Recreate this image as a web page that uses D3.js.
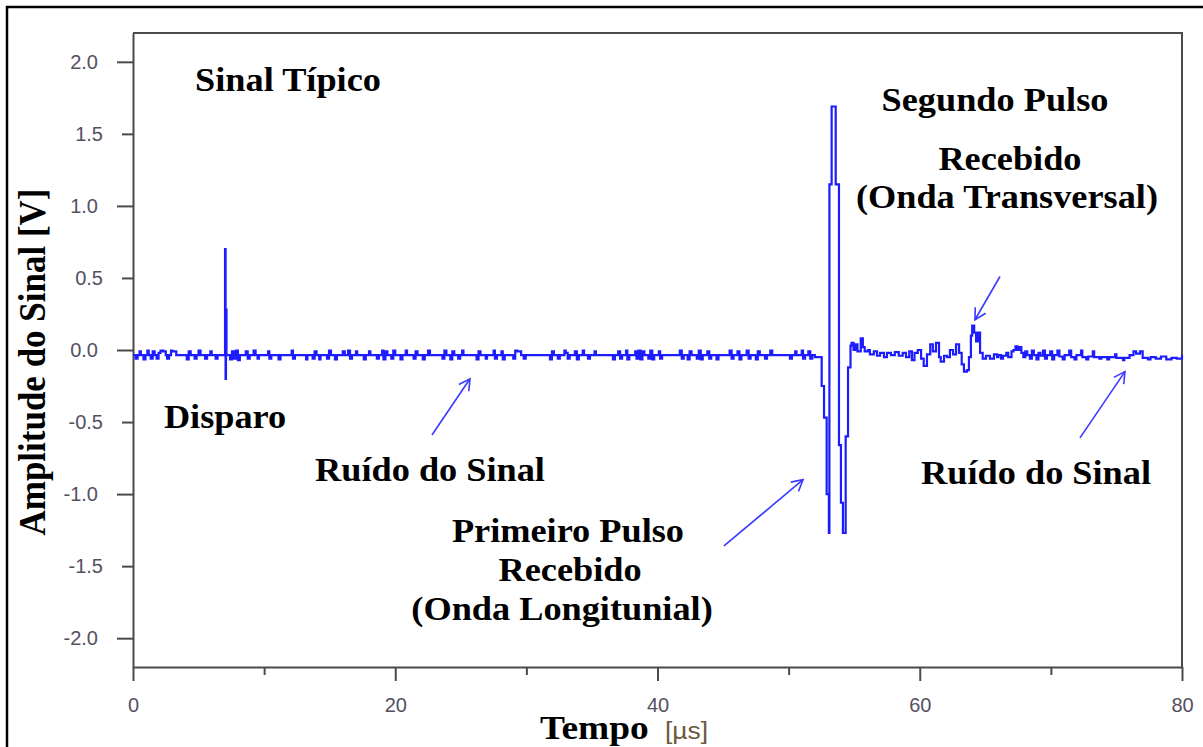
<!DOCTYPE html>
<html>
<head>
<meta charset="utf-8">
<script src="https://cdn.jsdelivr.net/npm/d3@7"></script>
<style>
  html, body { margin: 0; padding: 0; background: #fff; }
  svg { display: block; }
</style>
</head>
<body>
<svg id="chart" width="1203" height="747"></svg>
<script>
// Ultrasonic pulse-transit trace: amplitude [V] against time [µs].
// Each pair is [time µs, amplitude V]; the value holds until the next sample.

// Noise ahead of the trigger
const noiseLead = [
  [0.0,-0.035],[0.2,-0.06],[0.35,-0.035],[0.5,-0.01],[0.6,-0.035],[0.8,-0.065],[0.95,-0.035],
  [1.1,-0.005],[1.2,-0.035],[1.35,-0.06],[1.5,-0.01],[1.65,-0.035],[1.8,-0.06],[1.95,-0.02],
  [2.1,-0.005],[2.3,-0.01],[2.5,-0.035],[2.6,-0.06],[2.75,-0.035],[2.9,-0.005],[3.0,-0.01],
  [3.3,-0.035],[4.1,-0.065],[4.25,-0.01],[4.4,-0.035],[4.7,-0.06],[4.85,-0.035],[5.0,-0.005],
  [5.15,-0.035],[5.5,-0.06],[5.65,-0.035],[5.9,-0.01],[6.0,-0.035],[6.3,-0.06],[6.45,-0.035]
];

// Trigger spike ("Disparo")
const trigger = [
  [7.0,-0.035],[7.02,0.70],[7.06,-0.20],[7.09,0.28],[7.13,-0.035]
];

// Background noise between trigger and first arrival
const noiseMid = [
  [7.4,-0.065],[7.55,-0.01],[7.7,-0.06],[7.85,-0.005],[8.0,-0.07],[8.15,-0.035],
  [8.6,-0.01],[8.75,-0.06],[8.9,-0.035],[9.2,-0.005],[9.35,-0.035],[9.5,-0.06],[9.6,-0.035],
  [10.3,-0.01],[10.4,-0.06],[10.55,-0.035],[11.1,-0.065],[11.25,-0.035],
  [12.1,-0.005],[12.2,-0.06],[12.35,-0.035],[13.2,-0.065],[13.3,-0.035],
  [13.7,-0.06],[13.85,-0.01],[14.0,-0.035],[14.2,-0.065],[14.3,-0.035],
  [14.8,-0.06],[14.95,-0.005],[15.1,-0.035],[15.4,-0.065],[15.55,-0.035],
  [16.0,-0.01],[16.15,-0.035],[16.4,-0.005],[16.55,-0.06],[16.7,-0.035],[17.0,-0.01],[17.1,-0.035],
  [17.6,-0.065],[17.75,-0.035],[18.0,-0.01],[18.1,-0.035],
  [18.6,-0.06],[18.75,-0.035],[19.0,-0.005],[19.1,-0.065],[19.25,-0.01],[19.4,-0.035],
  [19.7,-0.06],[19.85,-0.005],[20.0,-0.035],
  [20.4,-0.065],[20.55,-0.035],[20.8,-0.005],[20.9,-0.035],
  [21.4,-0.06],[21.55,-0.01],[21.7,-0.035],[22.1,-0.065],[22.25,-0.035],[22.5,-0.005],[22.65,-0.035],
  [23.6,-0.06],[23.75,-0.005],[23.9,-0.035],[24.2,-0.065],[24.35,-0.01],[24.5,-0.035],
  [24.8,-0.06],[24.95,-0.035],[25.1,-0.005],[25.2,-0.035],
  [26.2,-0.065],[26.35,-0.01],[26.5,-0.035],[26.9,-0.06],[27.0,-0.035],
  [27.5,-0.005],[27.6,-0.06],[27.75,-0.035],[28.1,-0.01],[28.2,-0.065],[28.35,-0.035],
  [29.0,-0.06],[29.15,-0.005],[29.3,-0.01],[29.6,-0.035],[29.8,-0.06],[29.95,-0.035],
  [31.8,-0.065],[31.95,-0.01],[32.1,-0.035],[32.4,-0.06],[32.55,-0.035],[32.9,-0.005],
  [33.0,-0.02],[33.15,-0.06],[33.3,-0.035],[33.7,-0.01],[33.85,-0.065],[34.0,-0.035],
  [34.3,-0.005],[34.4,-0.035],[34.7,-0.06],[34.85,-0.035],[35.2,-0.01],[35.3,-0.035],
  [36.6,-0.065],[36.75,-0.035],[37.0,-0.01],[37.15,-0.06],[37.3,-0.035],[37.6,-0.005],
  [37.7,-0.065],[37.85,-0.035],[38.3,-0.01],[38.4,-0.06],[38.55,-0.005],[38.7,-0.065],
  [38.85,-0.01],[39.0,-0.035],[39.3,-0.06],[39.45,-0.005],[39.6,-0.065],[39.75,-0.035],
  [40.1,-0.01],[40.2,-0.06],[40.35,-0.035],
  [41.7,-0.005],[41.85,-0.06],[42.0,-0.035],[42.3,-0.065],[42.45,-0.01],[42.6,-0.035],
  [43.0,-0.06],[43.15,-0.005],[43.3,-0.065],[43.45,-0.035],[43.8,-0.01],[43.95,-0.06],
  [44.1,-0.035],[44.5,-0.065],[44.65,-0.035],
  [45.5,-0.005],[45.65,-0.06],[45.8,-0.035],[46.1,-0.01],[46.25,-0.065],[46.4,-0.035],
  [46.8,-0.005],[46.95,-0.06],[47.1,-0.035],[47.5,-0.065],[47.65,-0.01],[47.8,-0.035],
  [48.2,-0.06],[48.35,-0.035],[48.6,-0.005],[48.75,-0.035],
  [50.1,-0.06],[50.25,-0.035],[50.5,-0.01],[50.6,-0.035],[51.0,-0.005],[51.1,-0.06],
  [51.25,-0.035],[51.5,-0.01],[51.65,-0.06],[51.8,-0.035],[52.0,-0.05]
];

// First received pulse (longitudinal wave)
const firstPulse = [
  [52.52,-0.25],[52.70,-0.47],[52.90,-1.00],[53.07,-1.27],[53.11,1.15],[53.28,1.69],
  [53.59,1.15],[53.84,-0.66],[53.99,-1.06],[54.14,-1.27],[54.35,-0.60],[54.53,-0.12],[54.72,0.03]
];

// Ringing and second received pulse (transverse wave)
const ringing = [
  [54.8,0.05],[54.95,0.0],[55.1,0.04],[55.25,-0.01],[55.5,0.08],[55.66,0.02],[55.8,-0.01],
  [56.05,0.0],[56.2,-0.03],[56.5,-0.01],[56.74,-0.04],[56.97,-0.02],[57.27,-0.05],[57.5,-0.02],
  [57.8,-0.035],[58.1,-0.015],[58.4,-0.04],[58.7,-0.02],[58.95,-0.05],[59.2,-0.01],[59.4,-0.07],
  [59.6,-0.02],[59.85,0.0],[60.1,-0.06],[60.3,-0.11],[60.55,-0.03],[60.8,0.04],[61.0,-0.01],
  [61.24,0.05],[61.47,-0.05],[61.6,-0.08],[61.85,-0.04],[62.08,-0.05],[62.3,0.0],[62.54,-0.03],
  [62.77,0.04],[63.0,-0.02],[63.2,-0.10],[63.37,-0.15],[63.6,-0.14],[63.75,-0.05],[63.9,0.10],
  [64.0,0.17],[64.15,0.12],[64.3,0.06],[64.45,0.12],[64.6,-0.02],[64.8,-0.06],[65.05,-0.04],
  [65.35,-0.06],[65.66,-0.03],[65.9,-0.05]
];

// Trailing noise
const noiseTail = [
  [66.0,-0.035],[66.2,-0.06],[66.35,-0.04],[66.6,-0.02],[66.75,-0.05],[67.0,-0.01],[67.15,0.0],
  [67.3,0.025],[67.45,0.0],[67.6,0.02],[67.75,-0.02],[67.9,-0.05],[68.05,-0.01],[68.2,-0.035],
  [68.4,-0.06],[68.55,-0.005],[68.7,-0.035],[68.9,-0.065],[69.05,-0.02],[69.2,-0.04],[69.4,-0.005],
  [69.55,-0.06],[69.7,-0.035],[69.95,-0.01],[70.1,-0.065],[70.25,-0.035],[70.5,-0.005],[70.65,-0.045],
  [70.9,-0.065],[71.05,-0.035],[71.4,-0.005],[71.55,-0.05],[71.8,-0.065],[71.95,-0.035],[72.3,-0.005],
  [72.4,-0.05],[72.7,-0.065],[72.85,-0.045],[73.2,-0.01],[73.3,-0.05],[73.7,-0.06],[73.85,-0.05],
  [74.3,-0.065],[74.45,-0.05],[74.9,-0.03],[75.0,-0.055],[75.5,-0.07],[75.6,-0.055],[76.0,-0.035],
  [76.3,-0.01],[76.5,-0.025],[76.8,-0.01],[77.0,-0.055],[77.4,-0.065],[77.6,-0.05],[78.0,-0.06],
  [78.4,-0.045],[78.8,-0.065],[79.2,-0.055],[79.6,-0.06],[80.0,-0.035]
];

// Axis ticks
const yTicks = [-2.0,-1.5,-1.0,-0.5,0.0,0.5,1.0,1.5,2.0];
const yMajor = [-2.0,-1.0,0.0,1.0,2.0];
const xTicks = [0,10,20,30,40,50,60,70,80];
const xMajor = [0,20,40,60,80];

// Text labels: [text, time µs, amplitude V] (centre of the baseline)
const labels = [
  ["Sinal Típico", 11.82, 1.80],
  ["Segundo Pulso", 65.74, 1.66],
  ["Recebido", 66.88, 1.25],
  ["(Onda Transversal)", 66.65, 0.986],
  ["Disparo", 7.02, -0.54],
  ["Ruído do Sinal", 22.65, -0.91],
  ["Primeiro Pulso", 33.17, -1.33],
  ["Recebido", 33.33, -1.60],
  ["(Onda Longitunial)", 32.72, -1.875],
  ["Ruído do Sinal", 68.87, -0.93]
];

// Pointer arrows: [tail time, tail V, head time, head V]
const arrows = [
  [22.8, -0.59, 25.7, -0.20],
  [45.07, -1.36, 51.1, -0.90],
  [66.12, 0.51, 64.21, 0.21],
  [72.22, -0.61, 75.65, -0.15]
];

const svg = d3.select("#chart");
const x = d3.scaleLinear([0, 80], [133, 1182]);
const y = d3.scaleLinear([-2.2, 2.2], [667, 33]);

const axisColor = "#4a4a4a";
const tickTextColor = "#555060";

// Outer border
svg.append("path")
  .attr("d", "M7,747 L7,7 L1203,7")
  .attr("fill", "none").attr("stroke", "#000").attr("stroke-width", 2.5);

// Plot frame (top and right edges)
svg.append("path")
  .attr("d", `M${x(0)},${y(2.2)} L${x(80)},${y(2.2)} L${x(80)},${y(-2.2)}`)
  .attr("fill", "none").attr("stroke", axisColor).attr("stroke-width", 2);

// Y axis
const gy = svg.append("g").attr("transform", `translate(${x(0)},0)`)
  .call(d3.axisLeft(y).tickValues(yTicks).tickSize(16).tickSizeOuter(0)
    .tickFormat(d => d.toFixed(1)));
gy.select(".domain").attr("stroke", axisColor).attr("stroke-width", 2);
gy.selectAll(".tick line").attr("stroke", axisColor).attr("stroke-width", 2)
  .attr("x2", d => yMajor.includes(d) ? -16 : -11);
gy.selectAll(".tick text")
  .attr("x", d => yMajor.includes(d) ? -35 : -30)
  .attr("fill", tickTextColor)
  .style("font-family", "'Liberation Sans', Arial, sans-serif")
  .style("font-size", "20px");

// X axis
const gx = svg.append("g").attr("transform", `translate(0,${y(-2.2)})`)
  .call(d3.axisBottom(x).tickValues(xTicks).tickSize(14).tickSizeOuter(0)
    .tickFormat(d => xMajor.includes(d) ? d : ""));
gx.select(".domain").attr("stroke", axisColor).attr("stroke-width", 2);
gx.selectAll(".tick line").attr("stroke", axisColor).attr("stroke-width", 2)
  .attr("y2", d => xMajor.includes(d) ? 14 : 8);
gx.selectAll(".tick text")
  .attr("y", 31)
  .attr("fill", tickTextColor)
  .style("font-family", "'Liberation Sans', Arial, sans-serif")
  .style("font-size", "20px");

// Signal trace
const trace = [].concat(noiseLead, trigger, noiseMid, firstPulse, ringing, noiseTail);
const line = d3.line()
  .x(d => x(d[0]))
  .y(d => y(d[1]))
  .curve(d3.curveStepAfter);
svg.append("path")
  .datum(trace)
  .attr("d", line)
  .attr("fill", "none")
  .attr("stroke", "#1c1cff")
  .attr("stroke-width", 2.2)
  .attr("stroke-linejoin", "miter");

// Arrowhead marker
svg.append("defs").append("marker")
  .attr("id", "head")
  .attr("viewBox", "-12 -8 14 16")
  .attr("refX", 0).attr("refY", 0)
  .attr("markerWidth", 14).attr("markerHeight", 16)
  .attr("markerUnits", "userSpaceOnUse")
  .attr("orient", "auto")
  .append("path")
  .attr("d", "M-11,-6 L0,0 L-11,6")
  .attr("fill", "none").attr("stroke", "#3a3aff").attr("stroke-width", 1.6);

svg.append("g").selectAll("line")
  .data(arrows)
  .join("line")
  .attr("x1", d => x(d[0])).attr("y1", d => y(d[1]))
  .attr("x2", d => x(d[2])).attr("y2", d => y(d[3]))
  .attr("stroke", "#3a3aff").attr("stroke-width", 1.6)
  .attr("marker-end", "url(#head)");

// Annotation labels
const serif = "'Liberation Serif', 'Times New Roman', serif";
svg.append("g").selectAll("g")
  .data(labels)
  .join("g")
  .attr("transform", d => `translate(${x(d[1])},${y(d[2])}) scale(1.1,1)`)
  .append("text")
  .attr("text-anchor", "middle")
  .style("font-family", serif)
  .style("font-weight", "bold")
  .style("font-size", "33px")
  .attr("fill", "#000")
  .text(d => d[0]);

// Axis titles
svg.append("g")
  .attr("transform", "translate(45,362) scale(1.1,1) rotate(-90)")
  .append("text")
  .attr("text-anchor", "middle")
  .style("font-family", serif)
  .style("font-weight", "bold")
  .style("font-size", "35px")
  .text("Amplitude do Sinal [V]");

svg.append("g")
  .attr("transform", "translate(540,739) scale(1.1,1)")
  .append("text")
  .style("font-family", serif)
  .style("font-weight", "bold")
  .style("font-size", "34px")
  .text("Tempo");

svg.append("g")
  .attr("transform", "translate(665,739) scale(1.1,1)")
  .append("text")
  .attr("fill", "#6a5a40")
  .style("font-family", "'Liberation Sans', Arial, sans-serif")
  .style("font-size", "24px")
  .text("[µs]");
</script>
</body>
</html>
